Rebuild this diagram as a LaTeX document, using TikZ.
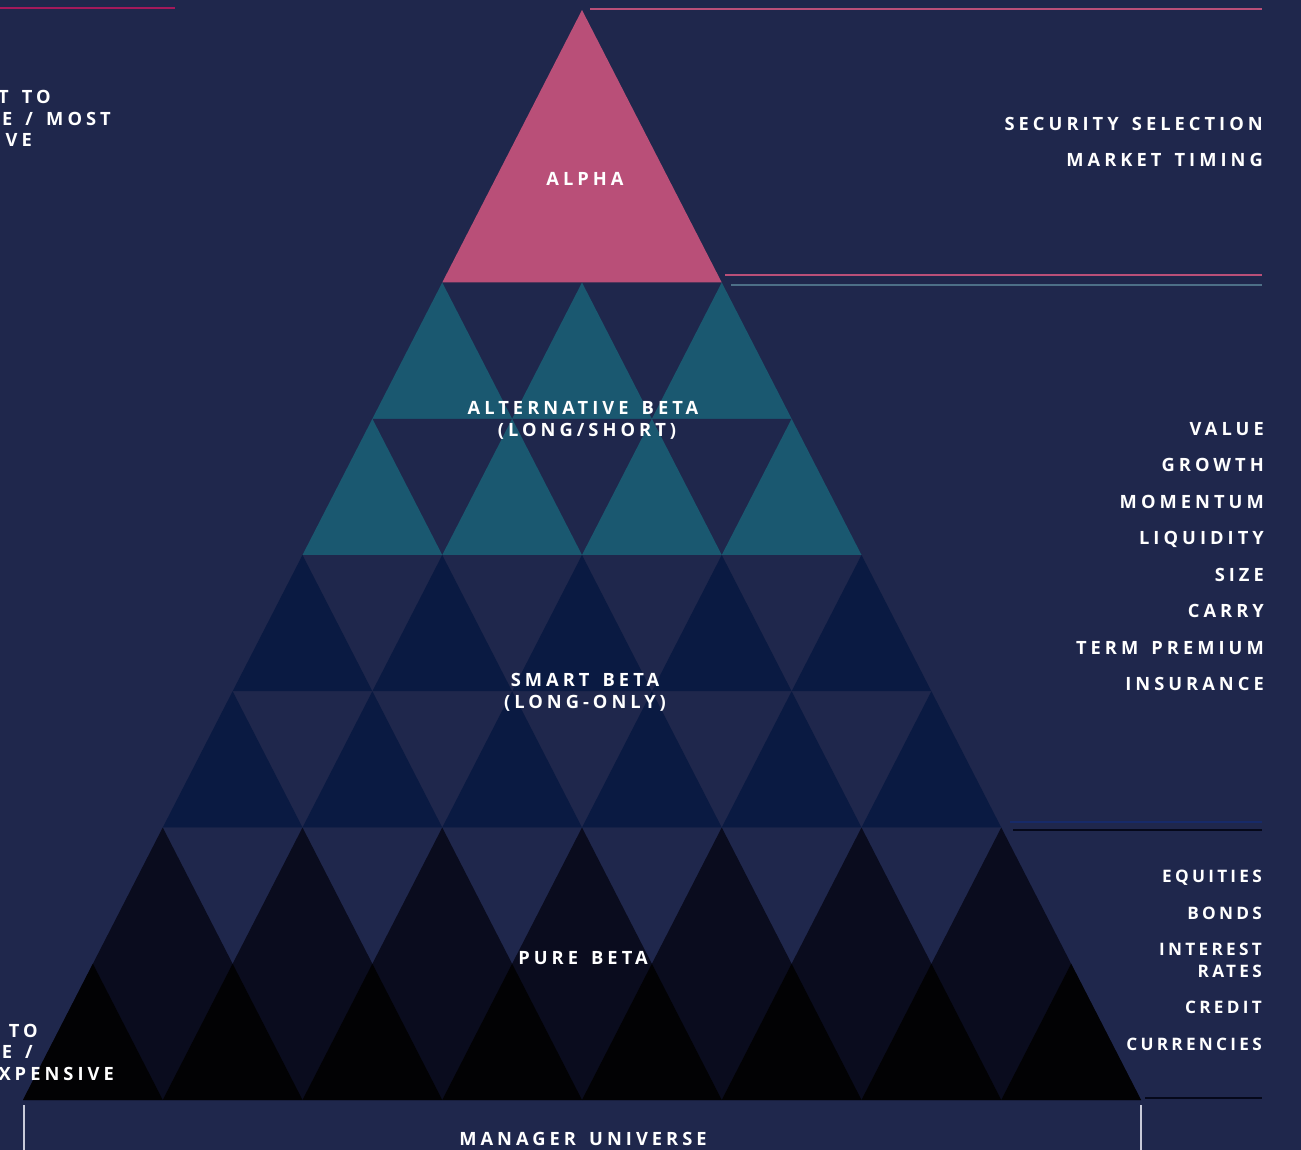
\documentclass[tikz,border=0pt]{standalone}
\usepackage{fontspec}
\setmainfont{Open Sans}
\newfontfamily\lblfont{Open Sans}[LetterSpace=22, WordSpace=1.5]
\newfontfamily\lblfontb{Open Sans}[LetterSpace=19, WordSpace=1.5]
\definecolor{cbg}{HTML}{1F274C}
\definecolor{cpink}{HTML}{B94F78}
\definecolor{cpinkline}{HTML}{A3195B}
\definecolor{cteal}{HTML}{1A5870}
\definecolor{ctealline}{HTML}{4D6F87}
\definecolor{csmart}{HTML}{0A1A42}
\definecolor{cpure}{HTML}{0A0C1E}
\definecolor{cblk}{HTML}{020204}
\definecolor{cnavyline}{HTML}{172A68}
\definecolor{cblkline}{HTML}{05081A}
\definecolor{cvline}{HTML}{C8CAD8}
\tikzset{
  lbl/.style={text=white, font=\lblfont\bfseries\fontsize{18.3}{22}\selectfont, inner sep=0pt, anchor=base},
  rlbl/.style={lbl, anchor=base east},
  blbl/.style={rlbl, font=\lblfontb\bfseries\fontsize{17.2}{22}\selectfont},
  rule/.style={line width=2.5pt}
}
\begin{document}
\begin{tikzpicture}[x=1pt,y=-1pt]
\fill[cbg] (0,0) rectangle (1301,1150);
\useasboundingbox (0,0) rectangle (1301,1150);
\def\W{139.75}
\def\H{136.25}
\def\AX{582}
\def\AY{10}
% pyramid rows
\foreach \k/\dc/\uc in {3/cbg/cteal,4/cbg/cteal,5/cbg/csmart,6/cbg/csmart,7/cbg/cpure,8/cpure/cblk}{
  \pgfmathsetmacro\yt{\AY+(\k-1)*\H}
  \pgfmathsetmacro\yb{\AY+\k*\H}
  \pgfmathsetmacro\xl{\AX-\k*\W/2}
  \pgfmathsetmacro\xr{\AX+\k*\W/2}
  \pgfmathsetmacro\xtl{\AX-(\k-1)*\W/2}
  \pgfmathsetmacro\xtr{\AX+(\k-1)*\W/2}
  \fill[\dc] (\xtl,\yt) -- (\xtr,\yt) -- (\xr,\yb) -- (\xl,\yb) -- cycle;
  \pgfmathtruncatemacro\n{\k-1}
  \foreach \j in {0,...,\n}{
    \pgfmathsetmacro\ax{\AX+(2*\j-\k+1)*\W/2}
    \pgfmathsetmacro\bl{\ax-\W/2}
    \pgfmathsetmacro\br{\ax+\W/2}
    \fill[\uc] (\ax,\yt) -- (\br,\yb) -- (\bl,\yb) -- cycle;
  }
}
% alpha
\fill[cpink] (582,10) -- (721.75,282.5) -- (442.25,282.5) -- cycle;
% rules
\draw[rule, cpinkline] (0,8) -- (175,8);
\draw[rule, cpink] (590,9) -- (1262,9);
\draw[rule, cpink] (725,275) -- (1262,275);
\draw[rule, ctealline] (731,285) -- (1262,285);
\draw[rule, cnavyline] (1010,822) -- (1262,822);
\draw[rule, cblkline] (1013,830) -- (1262,830);
\draw[rule, cblkline] (1145,1098) -- (1262,1098);
\draw[line width=1.3pt, cvline] (24,1105) -- (24,1150);
\draw[line width=1.3pt, cvline] (1141,1105) -- (1141,1150);
% center labels
\node[lbl] (alpha) at (585,186) {ALPHA};
\node[lbl] (alt1) at (583,414) {ALTERNATIVE BETA};
\node[lbl] (alt2) at (587,436) {(LONG/SHORT)};
\node[lbl] (sm1) at (585,686) {SMART BETA};
\node[lbl] (sm2) at (585,708) {(LONG-ONLY)};
\node[lbl] (pure) at (583,964) {PURE BETA};
\node[lbl] (univ) at (583,1145) {MANAGER UNIVERSE};
% right labels
\node[rlbl] (r1) at (1263,131) {SECURITY SELECTION};
\node[rlbl] (r2) at (1263,167) {MARKET TIMING};
\node[rlbl] (f1) at (1264,435) {VALUE};
\node[rlbl] (f2) at (1264,471) {GROWTH};
\node[rlbl] (f3) at (1264,508) {MOMENTUM};
\node[rlbl] (f4) at (1264,544) {LIQUIDITY};
\node[rlbl] (f5) at (1264,581) {SIZE};
\node[rlbl] (f6) at (1264,617) {CARRY};
\node[rlbl] (f7) at (1264,654) {TERM PREMIUM};
\node[rlbl] (f8) at (1264,690) {INSURANCE};
\node[blbl] (b1) at (1262,882) {EQUITIES};
\node[blbl] (b2) at (1262,919) {BONDS};
\node[blbl] (b3) at (1262,955) {INTEREST};
\node[blbl] (b4) at (1262,977) {RATES};
\node[blbl] (b5) at (1262,1013) {CREDIT};
\node[blbl] (b6) at (1262,1050) {CURRENCIES};
% left (cropped) labels
\node[rlbl] (l1) at (51,104) {T TO};
\node[rlbl] (l2) at (111,126) {E / MOST};
\node[rlbl] (l3) at (32,147) {VE};
\node[rlbl] (l4) at (38,1037) {TO};
\node[rlbl] (l5) at (33,1058) {E /};
\node[rlbl] (l6) at (114,1080) {XPENSIVE};
\end{tikzpicture}
\end{document}
